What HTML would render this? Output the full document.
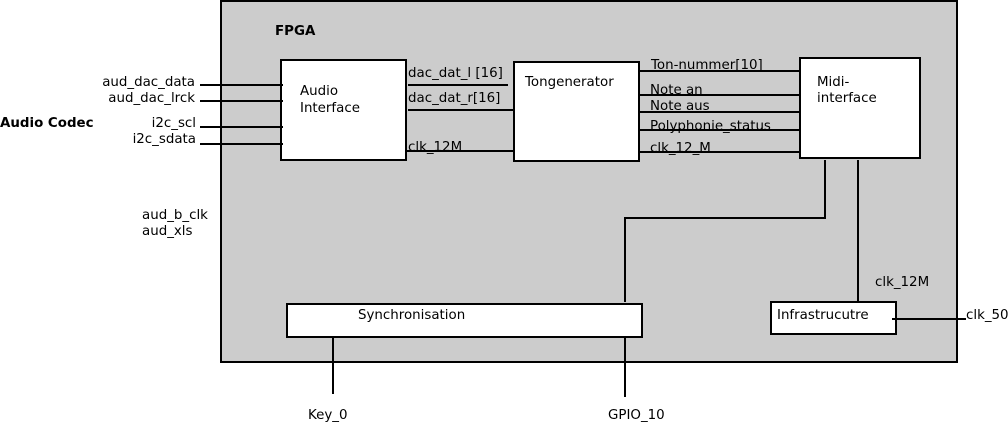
<!DOCTYPE html>
<html><head><meta charset="utf-8"><style>
html,body{margin:0;padding:0;background:#fff;}
svg{display:block;}
text{font-family:"DejaVu Sans","Liberation Sans",sans-serif;font-size:13.4px;fill:#000;}
</style></head><body>
<svg width="1008" height="422" viewBox="0 0 1008 422" xmlns="http://www.w3.org/2000/svg">
<rect x="221" y="1" width="736" height="361" fill="#cccccc" stroke="#000" stroke-width="2"/>
<text x="275" y="35" style="font-weight:bold">FPGA</text>
<g stroke="#000" stroke-width="2" fill="#fff">
<rect x="281" y="60" width="125" height="100"/>
<rect x="514" y="62" width="125" height="99"/>
<rect x="800" y="58" width="120" height="100"/>
<rect x="287" y="304" width="355" height="33"/>
<rect x="771" y="302" width="125" height="32"/>
</g>
<g stroke="#000" stroke-width="2" fill="none">
<line x1="200" y1="85" x2="283" y2="85"/>
<line x1="200" y1="101" x2="283" y2="101"/>
<line x1="200" y1="127" x2="283" y2="127"/>
<line x1="200" y1="144" x2="283" y2="144"/>
<line x1="408" y1="85" x2="508" y2="85"/>
<line x1="408" y1="110" x2="514" y2="110"/>
<line x1="406" y1="151" x2="514" y2="151"/>
<line x1="639" y1="71" x2="800" y2="71"/>
<line x1="639" y1="95" x2="800" y2="95"/>
<line x1="639" y1="112" x2="800" y2="112"/>
<line x1="639" y1="130" x2="800" y2="130"/>
<line x1="639" y1="152" x2="800" y2="152"/>
<polyline points="825,160 825,218 625,218 625,302"/>
<line x1="858" y1="160" x2="858" y2="302"/>
<line x1="333" y1="336" x2="333" y2="394"/>
<line x1="625" y1="337" x2="625" y2="397"/>
<line x1="892" y1="319" x2="966" y2="319"/>
</g>
<text x="0" y="127" style="font-weight:bold">Audio Codec</text>
<text x="195" y="86" text-anchor="end">aud_dac_data</text>
<text x="195" y="102" text-anchor="end">aud_dac_lrck</text>
<text x="196" y="127" text-anchor="end">i2c_scl</text>
<text x="196" y="143" text-anchor="end">i2c_sdata</text>
<text x="142" y="219">aud_b_clk</text>
<text x="142" y="235">aud_xls</text>
<text x="300" y="95">Audio</text>
<text x="300" y="112">Interface</text>
<text x="408" y="77">dac_dat_l [16]</text>
<text x="408" y="102">dac_dat_r[16]</text>
<text x="408" y="151">clk_12M</text>
<text x="525" y="86">Tongenerator</text>
<text x="651" y="69">Ton-nummer[10]</text>
<text x="650" y="94">Note an</text>
<text x="650" y="110">Note aus</text>
<text x="650" y="130">Polyphonie_status</text>
<text x="650" y="152">clk_12_M</text>
<text x="817" y="86">Midi-</text>
<text x="817" y="102">interface</text>
<text x="358" y="319">Synchronisation</text>
<text x="777" y="319">Infrastrucutre</text>
<text x="875" y="286">clk_12M</text>
<text x="966" y="319">clk_50</text>
<text x="308" y="419">Key_0</text>
<text x="608" y="419">GPIO_10</text>
</svg>
</body></html>
